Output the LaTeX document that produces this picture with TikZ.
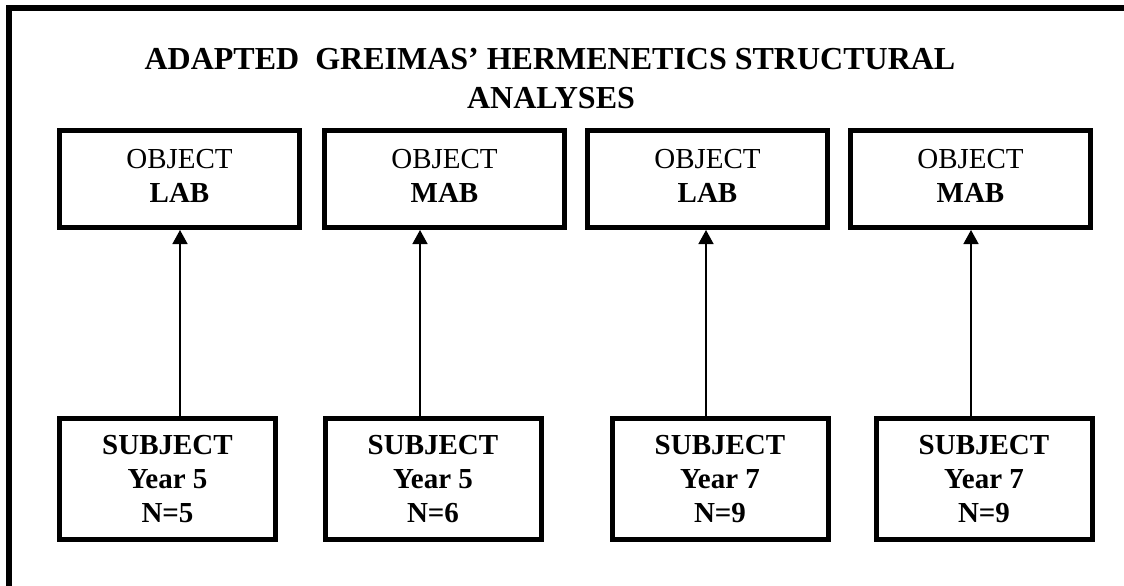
\documentclass[tikz,border=0pt]{standalone}
\usepackage{fontspec}
\setmainfont{Liberation Serif}
\usetikzlibrary{arrows.meta}
\begin{document}
\begin{tikzpicture}[x=1pt,y=-1pt,
  objbox/.style={draw,line width=5pt,minimum width=240pt,minimum height=97pt,inner sep=0pt,text depth=7pt,align=center,font=\fontsize{29}{34}\selectfont},
  subjbox/.style={draw,line width=5pt,minimum width=216pt,minimum height=121pt,inner sep=0pt,align=center,font=\fontsize{29}{34}\selectfont\bfseries},
  titletext/.style={font=\fontsize{32}{38}\selectfont\bfseries,anchor=base,inner sep=0pt},
  arr/.style={line width=1.5pt,-{Triangle[width=15pt,length=14pt]}},
  frameline/.style={line width=5.5pt,miter limit=10}]
\useasboundingbox (0,0) rectangle (1124,586);
\draw[frameline] (1126,8) -- (9,8) -- (9,588);
\node[titletext] (t1) at (550,70) {ADAPTED\ \ GREIMAS’ HERMENETICS STRUCTURAL};
\node[titletext] (t2) at (551,108) {ANALYSES};
\node[objbox] (o1) at (179.5,179) {OBJECT\\\textbf{LAB}};
\node[objbox] (o2) at (444.5,179) {OBJECT\\\textbf{MAB}};
\node[objbox] (o3) at (707.5,179) {OBJECT\\\textbf{LAB}};
\node[objbox] (o4) at (970.5,179) {OBJECT\\\textbf{MAB}};
\node[subjbox] (s1) at (167.5,479) {SUBJECT\\Year 5\\N=5};
\node[subjbox] (s2) at (433,479) {SUBJECT\\Year 5\\N=6};
\node[subjbox] (s3) at (720,479) {SUBJECT\\Year 7\\N=9};
\node[subjbox] (s4) at (984,479) {SUBJECT\\Year 7\\N=9};
\draw[arr] ([xshift=12.5pt]s1.north) -- ([xshift=12.5pt]s1.north |- o1.south);
\draw[arr] ([xshift=-13pt]s2.north) -- ([xshift=-13pt]s2.north |- o2.south);
\draw[arr] ([xshift=-14pt]s3.north) -- ([xshift=-14pt]s3.north |- o3.south);
\draw[arr] ([xshift=-13pt]s4.north) -- ([xshift=-13pt]s4.north |- o4.south);
\end{tikzpicture}
\end{document}
